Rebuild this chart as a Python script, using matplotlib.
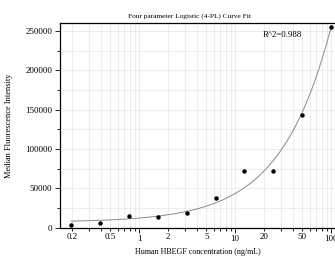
import numpy as np
import matplotlib
matplotlib.use("Agg")
import matplotlib.pyplot as plt
from matplotlib.ticker import FixedLocator, MultipleLocator

conc = [0.195, 0.39, 0.78, 1.56, 3.125, 6.25, 12.5, 25, 50, 100]
mfi = [3800, 6300, 14300, 14000, 18100, 37700, 72000, 72700, 143000, 255000]
r2_label = "R^2=0.988"

# estimated 4PL parameters of the drawn fit
A_BOT = 7000.0
B_SLOPE = 0.84
C_MID = 1.0e4
D_TOP = 7000.0 + 1.21e7

plt.rcParams['font.family'] = ['Liberation Serif', 'DejaVu Serif']

fig = plt.figure(figsize=(3.35, 2.66), dpi=100)
ax = fig.add_axes([60/335, 1-227.7/266, 275/335, (227.7-23.3)/266])

xs = np.logspace(np.log10(0.195), np.log10(100), 300)
ys = D_TOP + (A_BOT - D_TOP) / (1 + (xs / C_MID) ** B_SLOPE)
ax.plot(xs, ys, color='#8a8a8a', lw=0.7, zorder=3)
ax.plot(conc, mfi, 'o', color='black', ms=2.2, zorder=4)

ax.set_xscale('log')
ax.set_xlim(0.149, 110)
ax.set_ylim(0, 259800)

major = [1, 10, 100]
minor = [m * 10.0**e for e in (-1, 0, 1) for m in range(2, 10)]
ax.xaxis.set_major_locator(FixedLocator(major))
ax.xaxis.set_minor_locator(FixedLocator(minor))
ax.set_xticks(major)
ax.set_xticklabels(['1', '10', '100'])
lab_minor = {0.2: '0.2', 0.5: '0.5', 2: '2', 5: '5', 20: '20', 50: '50'}
ax.xaxis.set_minor_formatter(matplotlib.ticker.FuncFormatter(
    lambda v, p: next((s for k, s in lab_minor.items() if abs(v - k) < 1e-6 * k), '')))

ax.yaxis.set_major_locator(MultipleLocator(50000))
ax.yaxis.set_minor_locator(MultipleLocator(25000))

ax.tick_params(axis='both', which='both', direction='out', labelsize=6.5,
               color='black', width=0.6, pad=2)
ax.tick_params(axis='both', which='major', length=3.5)
ax.tick_params(axis='both', which='minor', length=2)

ax.grid(True, which='both', color='#e6e6e6', lw=0.5, zorder=0)
ax.set_axisbelow(True)

for s in ['top', 'left', 'bottom']:
    ax.spines[s].set_linewidth(0.9)
ax.spines['right'].set_visible(False)

ax.text(0.738, 0.943, r2_label, transform=ax.transAxes, ha='left', va='center',
        fontsize=6.3)
ax.set_title("Four parameter Logistic (4-PL) Curve Fit", fontsize=5.3, pad=4,
             x=0.47)
ax.set_xlabel("Human HBEGF concentration (ng/mL)", fontsize=5.8, labelpad=3)
ax.set_ylabel("Median Fluorescence Intensity", fontsize=6.0, labelpad=9)

fig.savefig("out.png", dpi=100)
